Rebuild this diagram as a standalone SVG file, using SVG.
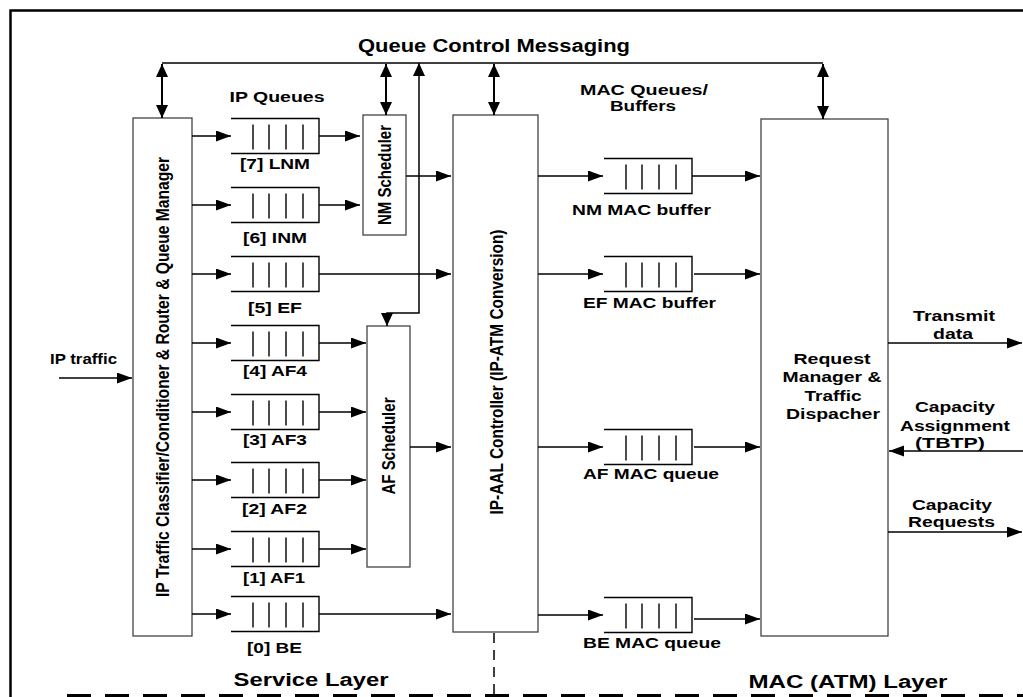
<svg xmlns="http://www.w3.org/2000/svg" xmlns:xlink="http://www.w3.org/1999/xlink" width="1023" height="697" viewBox="0 0 1023 697">
<style>
text{font-family:"Liberation Sans",Arial,sans-serif;font-weight:bold;fill:#000;font-size:14px}
.t{font-size:18px}
.m{text-anchor:middle}
.box{fill:#fff;stroke:#444;stroke-width:1.3}
.q{fill:none;stroke:#000;stroke-width:1.4}
.a{fill:none;stroke:#000;stroke-width:1.3;marker-end:url(#ah)}
.d{fill:none;stroke:#000;stroke-width:2;marker-end:url(#ah2);marker-start:url(#ah2)}
</style>
<defs>
<marker id="ah" markerUnits="userSpaceOnUse" markerWidth="16" markerHeight="12" refX="15" refY="5.5" orient="auto-start-reverse"><path d="M0,0 L15,5.5 L0,11 Z" fill="#000"/></marker>
<marker id="ah2" markerUnits="userSpaceOnUse" markerWidth="14" markerHeight="13" refX="13" refY="6" orient="auto-start-reverse"><path d="M0,0 L13,6 L0,12 Z" fill="#000"/></marker>
<g id="queue"><path class="q" d="M0,0H88V35H0M22,6V31M38,6V31M55,6V31M72,6V31"/></g>
</defs>
<rect width="1023" height="697" fill="#fff"/>
<path d="M10.5,697V10.5H1023" fill="none" stroke="#000" stroke-width="2.5"/>
<path d="M67,695.5H1023" fill="none" stroke="#000" stroke-width="3" stroke-dasharray="24 14"/>
<path d="M494,633V697" fill="none" stroke="#000" stroke-width="1.5" stroke-dasharray="10 7"/>

<text class="t m" x="494" y="52" textLength="272" lengthAdjust="spacingAndGlyphs">Queue Control Messaging</text>
<text class="m" x="277" y="102" textLength="95" lengthAdjust="spacingAndGlyphs">IP Queues</text>
<text class="m" x="644" y="95" textLength="128" lengthAdjust="spacingAndGlyphs">MAC Queues/</text>
<text class="m" x="643" y="111" textLength="66" lengthAdjust="spacingAndGlyphs">Buffers</text>
<text class="t m" x="311" y="686" textLength="155" lengthAdjust="spacingAndGlyphs">Service Layer</text>
<text class="t m" x="848" y="688" textLength="199" lengthAdjust="spacingAndGlyphs">MAC (ATM) Layer</text>

<g id="classifier">
<rect class="box" x="133" y="118" width="59" height="518"/>
<text class="m" transform="translate(169,377) rotate(-90) scale(1,1.25)" textLength="440" lengthAdjust="spacingAndGlyphs">IP Traffic Classifier/Conditioner &amp; Router  &amp; Queue Manager</text>
</g>
<g id="nm-scheduler">
<rect class="box" x="363" y="115" width="43" height="120"/>
<text class="m" transform="translate(391,175) rotate(-90) scale(1,1.25)" textLength="100" lengthAdjust="spacingAndGlyphs">NM Scheduler</text>
</g>
<g id="af-scheduler">
<rect class="box" x="367" y="326" width="43" height="241"/>
<text class="m" transform="translate(395,446) rotate(-90) scale(1,1.25)" textLength="97" lengthAdjust="spacingAndGlyphs">AF Scheduler</text>
</g>
<g id="ip-aal">
<rect class="box" x="453" y="115" width="85" height="517"/>
<text class="m" transform="translate(503,372) rotate(-90) scale(1,1.25)" textLength="285" lengthAdjust="spacingAndGlyphs">IP-AAL Controller (IP-ATM Conversion)</text>
</g>
<g id="request-manager">
<rect class="box" x="761" y="119" width="127" height="517"/>
<text class="m" x="832" y="364" textLength="77" lengthAdjust="spacingAndGlyphs">Request</text>
<text class="m" x="832" y="382" textLength="99" lengthAdjust="spacingAndGlyphs">Manager &amp;</text>
<text class="m" x="833" y="401" textLength="57" lengthAdjust="spacingAndGlyphs">Traffic</text>
<text class="m" x="833" y="419" textLength="94" lengthAdjust="spacingAndGlyphs">Dispacher</text>
</g>

<g id="q7"><use xlink:href="#queue" x="231" y="118.5"/><text class="m" x="275" y="169" textLength="70" lengthAdjust="spacingAndGlyphs">[7] LNM</text></g>
<g id="q6"><use xlink:href="#queue" x="231" y="187.5"/><text class="m" x="275" y="243" textLength="64" lengthAdjust="spacingAndGlyphs">[6] INM</text></g>
<g id="q5"><use xlink:href="#queue" x="231" y="256.5"/><text class="m" x="275" y="312.5" textLength="54" lengthAdjust="spacingAndGlyphs">[5] EF</text></g>
<g id="q4"><use xlink:href="#queue" x="231" y="325.5"/><text class="m" x="275" y="376" textLength="64" lengthAdjust="spacingAndGlyphs">[4] AF4</text></g>
<g id="q3"><use xlink:href="#queue" x="231" y="394.5"/><text class="m" x="275" y="445" textLength="64" lengthAdjust="spacingAndGlyphs">[3] AF3</text></g>
<g id="q2"><use xlink:href="#queue" x="231" y="462.5"/><text class="m" x="274.5" y="514" textLength="65" lengthAdjust="spacingAndGlyphs">[2] AF2</text></g>
<g id="q1"><use xlink:href="#queue" x="231" y="531.5"/><text class="m" x="274" y="583" textLength="62" lengthAdjust="spacingAndGlyphs">[1] AF1</text></g>
<g id="q0"><use xlink:href="#queue" x="231" y="596.5"/><text class="m" x="274.5" y="653" textLength="55" lengthAdjust="spacingAndGlyphs">[0] BE</text></g>

<g id="nm-mac"><use xlink:href="#queue" x="604" y="158.5"/><text class="m" x="641.5" y="215" textLength="139" lengthAdjust="spacingAndGlyphs">NM MAC buffer</text></g>
<g id="ef-mac"><use xlink:href="#queue" x="604" y="256.5"/><text class="m" x="649.5" y="308" textLength="133" lengthAdjust="spacingAndGlyphs">EF MAC buffer</text></g>
<g id="af-mac"><use xlink:href="#queue" x="604" y="429.5"/><text class="m" x="651" y="479" textLength="136" lengthAdjust="spacingAndGlyphs">AF MAC queue</text></g>
<g id="be-mac"><use xlink:href="#queue" x="604" y="597.5"/><text class="m" x="652" y="648" textLength="138" lengthAdjust="spacingAndGlyphs">BE MAC queue</text></g>

<g id="ext-labels">
<text class="m" x="83.5" y="364" textLength="67" lengthAdjust="spacingAndGlyphs">IP traffic</text>
<text class="m" x="954" y="321" textLength="82" lengthAdjust="spacingAndGlyphs">Transmit</text>
<text class="m" x="953" y="339" textLength="40" lengthAdjust="spacingAndGlyphs">data</text>
<text class="m" x="955" y="412" textLength="80" lengthAdjust="spacingAndGlyphs">Capacity</text>
<text class="m" x="955" y="431" textLength="110" lengthAdjust="spacingAndGlyphs">Assignment</text>
<text class="m" x="950" y="448" textLength="70" lengthAdjust="spacingAndGlyphs">(TBTP)</text>
<text class="m" x="952" y="510" textLength="80" lengthAdjust="spacingAndGlyphs">Capacity</text>
<text class="m" x="951.5" y="527" textLength="87" lengthAdjust="spacingAndGlyphs">Requests</text>
</g>

<g id="connectors">
<path d="M162,63H823" fill="none" stroke="#000" stroke-width="1.3"/>
<path class="d" d="M162,64V118"/>
<path class="d" d="M386,64V115"/>
<path class="d" d="M494,64V115"/>
<path class="d" d="M823,64V119"/>
<path d="M387,326V313H419V63" fill="none" stroke="#000" stroke-width="1.5" marker-start="url(#ah2)" marker-end="url(#ah2)"/>
<path class="a" d="M59,378H132"/>
<path class="a" d="M192,136H231"/>
<path class="a" d="M192,205H231"/>
<path class="a" d="M192,274H231"/>
<path class="a" d="M192,343H231"/>
<path class="a" d="M192,412H231"/>
<path class="a" d="M192,480H231"/>
<path class="a" d="M192,549H231"/>
<path class="a" d="M192,614H231"/>
<path class="a" d="M319,136H360"/>
<path class="a" d="M319,205H360"/>
<path class="a" d="M406,176H451"/>
<path class="a" d="M319,274H451"/>
<path class="a" d="M319,343H366"/>
<path class="a" d="M319,412H366"/>
<path class="a" d="M319,480H366"/>
<path class="a" d="M319,549H366"/>
<path class="a" d="M410,447H451"/>
<path class="a" d="M319,614H451"/>
<path class="a" d="M538,176H603"/>
<path class="a" d="M538,274H603"/>
<path class="a" d="M538,447H603"/>
<path class="a" d="M538,615H603"/>
<path class="a" d="M692,176H760"/>
<path class="a" d="M694,274H760"/>
<path class="a" d="M694,447H760"/>
<path class="a" d="M694,619H760"/>
<path class="a" d="M888,343H1022"/>
<path class="a" d="M1023,451H889"/>
<path class="a" d="M888,532H1022"/>
</g>
</svg>
